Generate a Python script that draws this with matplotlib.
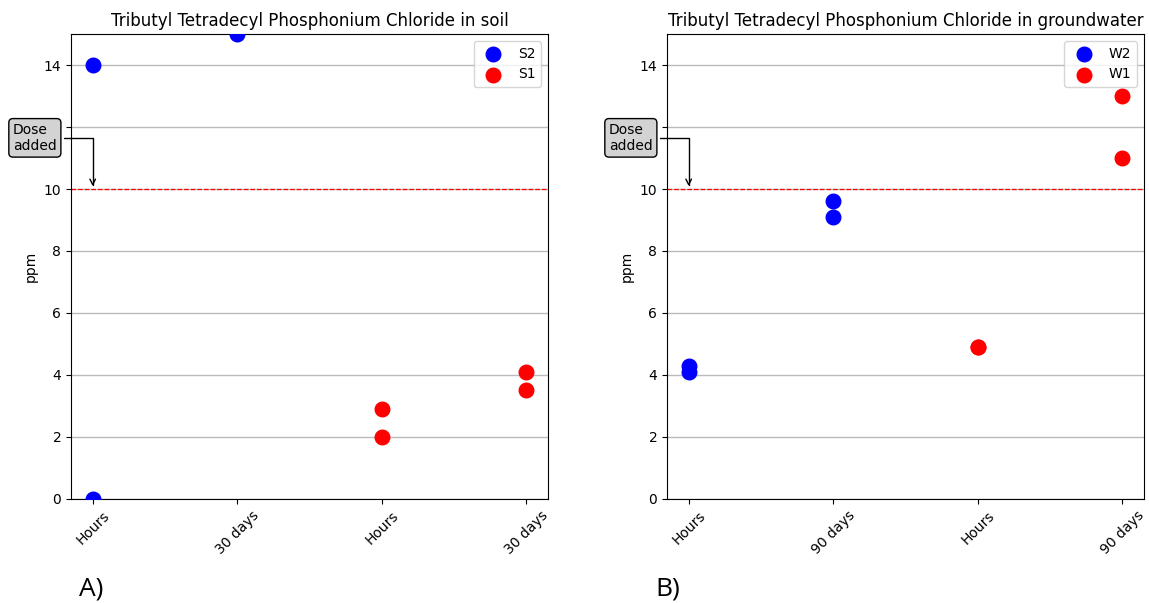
import matplotlib
matplotlib.use("Agg")
import matplotlib.pyplot as plt

# Soil panel
soil_ticks = ["Hours", "30 days", "Hours", "30 days"]
s2_x = [0, 0, 1]
s2_y = [14.0, 0.0, 15.0]
s1_x = [2, 2, 3, 3]
s1_y = [2.9, 2.0, 4.1, 3.5]

# Groundwater panel
gw_ticks = ["Hours", "90 days", "Hours", "90 days"]
w2_x = [0, 0, 1, 1]
w2_y = [4.3, 4.1, 9.6, 9.1]
w1_x = [2, 2, 3, 3]
w1_y = [4.9, 4.9, 13.0, 11.0]

dose_level = 10

fig = plt.figure(figsize=(11.49, 6.03), dpi=100)
ax1 = fig.add_axes([0.0618, 0.1725, 0.4152, 0.7711])
ax2 = fig.add_axes([0.5805, 0.1725, 0.4152, 0.7711])

panels = [
    (ax1, "Tributyl Tetradecyl Phosphonium Chloride in soil", soil_ticks,
     (s2_x, s2_y, "S2"), (s1_x, s1_y, "S1")),
    (ax2, "Tributyl Tetradecyl Phosphonium Chloride in groundwater", gw_ticks,
     (w2_x, w2_y, "W2"), (w1_x, w1_y, "W1")),
]

for ax, title, ticks, blue, red in panels:
    ax.scatter(blue[0], blue[1], s=110, color="blue", label=blue[2], zorder=3)
    ax.scatter(red[0], red[1], s=110, color="red", label=red[2], zorder=3)
    ax.set_ylim(0, 15)
    ax.set_xticks(range(len(ticks)))
    ax.set_xticklabels(ticks, rotation=45)
    ax.set_yticks(range(0, 16, 2))
    ax.yaxis.grid(True, color="#bbbbbb", linewidth=1.0)
    ax.set_axisbelow(True)
    ax.axhline(dose_level, color="red", linestyle="--", linewidth=0.9)
    ax.set_ylabel("ppm", fontsize=10)
    ax.set_title(title, fontsize=12)
    ax.legend(loc="upper right", fontsize=10)
    ax.tick_params(labelsize=10)
    ax.annotate("Dose\nadded", xy=(0, dose_level), xytext=(-0.4, 11.65),
                textcoords="data", ha="center", va="center", fontsize=10,
                multialignment="left", annotation_clip=False, zorder=5,
                bbox=dict(boxstyle="round,pad=0.3", fc="lightgray", ec="black"),
                arrowprops=dict(arrowstyle="->", color="black",
                                connectionstyle="angle,angleA=0,angleB=90,rad=0"))

fig.text(0.069, 0.012, "A)", fontsize=19, family="Open Sans")
fig.text(0.570, 0.012, "B)", fontsize=19, family="Open Sans")

fig.savefig("out.png", dpi=100)
